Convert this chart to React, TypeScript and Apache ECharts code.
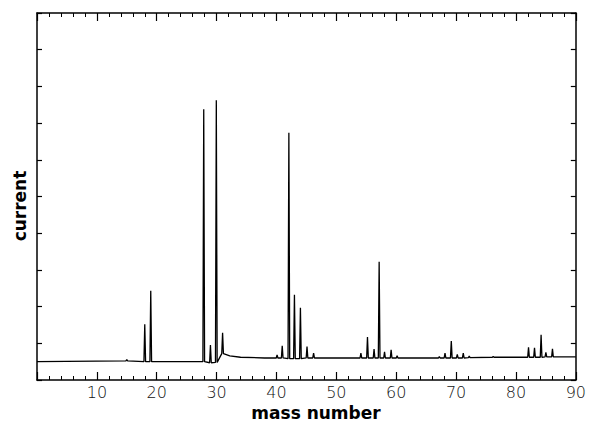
import React, { useEffect, useRef } from "react";
import * as echarts from "echarts";

// Peak positions (mass number), apex heights and local baseline (y units 0..10)
const peakMass = [15, 18, 19, 27.85, 28.97, 29.95, 31.0, 40.1, 40.96, 42.07, 43.0, 44.0, 45.1, 46.2, 54.1, 55.2, 56.3, 57.15, 58.05, 59.15, 60.15, 67.2, 68.15, 69.2, 70.2, 71.2, 72.2, 76.2, 82.1, 83.1, 84.2, 85.0, 86.1];
const peakHeight = [0.56, 1.52, 2.43, 7.38, 0.95, 7.62, 1.29, 0.68, 0.93, 6.74, 2.32, 1.97, 0.91, 0.73, 0.73, 1.17, 0.84, 3.22, 0.77, 0.82, 0.66, 0.64, 0.73, 1.06, 0.7, 0.73, 0.65, 0.64, 0.89, 0.88, 1.23, 0.75, 0.85];
const peakBase = [0.52, 0.5, 0.5, 0.5, 0.47, 0.48, 0.72, 0.6, 0.6, 0.58, 0.58, 0.58, 0.6, 0.6, 0.6, 0.6, 0.6, 0.6, 0.6, 0.6, 0.6, 0.6, 0.6, 0.6, 0.6, 0.6, 0.61, 0.62, 0.62, 0.62, 0.62, 0.63, 0.63];
const startPoint = [0, 0.5];
const endPoint = [90, 0.63];
const tailPoints = [[32.2, 0.66], [34, 0.62], [38, 0.6]];

const xTicks = [10, 20, 30, 40, 50, 60, 70, 80, 90];

export default function App() {
  const ref = useRef<HTMLDivElement>(null);
  useEffect(() => {
    if (!ref.current) return;
    const chart = echarts.init(ref.current, null, { renderer: "svg" });
    const w = 0.14;
    const pts: number[][] = [startPoint];
    peakMass.forEach((m, i) => {
      pts.push([m - w, peakBase[i]]);
      pts.push([m, peakHeight[i]]);
      pts.push([m + w, peakBase[i]]);
      if (i === 6) tailPoints.forEach((p) => pts.push(p));
    });
    pts.push(endPoint);

    const axisCommon = {
      type: "value",
      min: 0,
      max: 90,
      interval: 10,
      splitNumber: 5,
      axisLine: { show: true, onZero: false, lineStyle: { color: "#000", width: 1.5 } },
      axisTick: { show: true, inside: true, length: 8, lineStyle: { color: "#000", width: 1.2 } },
      minorTick: { show: true, splitNumber: 5, length: 4, lineStyle: { color: "#000", width: 1 } },
      splitLine: { show: false },
    };
    const yCommon = {
      type: "value",
      min: 0,
      max: 10,
      interval: 1,
      axisLine: { show: true, onZero: false, lineStyle: { color: "#000", width: 1.5 } },
      axisTick: { show: true, inside: true, length: 5, lineStyle: { color: "#000", width: 1.2 } },
      axisLabel: { show: false },
      splitLine: { show: false },
    };
    chart.setOption({
      animation: false,
      grid: { left: 37, right: 9, top: 13, bottom: 42 },
      xAxis: [
        {
          ...axisCommon,
          position: "bottom",
          axisLabel: {
            show: true,
            margin: 4,
            fontFamily: "DejaVu Sans",
            fontWeight: 200,
            fontSize: 16,
            lineHeight: 16,
            color: "#111",
            formatter: (v: number) => (xTicks.includes(v) ? String(v) : ""),
          },
        },
        { ...axisCommon, position: "top", axisLabel: { show: false } },
      ],
      yAxis: [
        { ...yCommon, position: "left" },
        { ...yCommon, position: "right" },
      ],
      series: [
        {
          type: "line",
          data: pts,
          showSymbol: false,
          symbol: "none",
          lineStyle: { color: "#000", width: 1.3 },
          xAxisIndex: 0,
          yAxisIndex: 0,
        },
      ],
      graphic: [
        {
          type: "text",
          x: 20,
          y: 206,
          rotation: Math.PI / 2,
          style: {
            text: "current",
            fontFamily: "DejaVu Sans",
            fontWeight: "bold",
            fontSize: 17,
            fill: "#000",
            align: "center",
            verticalAlign: "middle",
          },
        },
        {
          type: "text",
          x: 316,
          y: 413,
          style: {
            text: "mass number",
            fontFamily: "DejaVu Sans",
            fontWeight: "bold",
            fontSize: 17,
            lineHeight: 17,
            fill: "#000",
            align: "center",
            verticalAlign: "middle",
          },
        },
      ],
    });
    return () => chart.dispose();
  }, []);
  return <div ref={ref} style={{ width: 589, height: 422, position: "absolute", left: 0, top: 0 }} />;
}
